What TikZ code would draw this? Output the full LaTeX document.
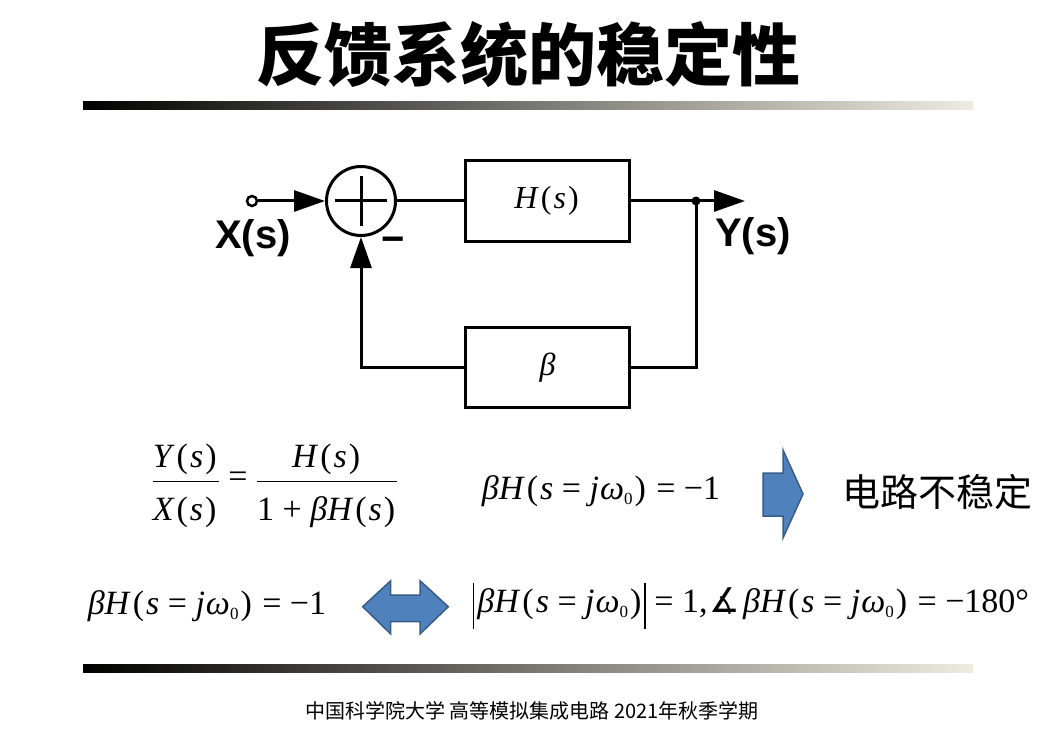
\documentclass[tikz,border=0pt]{standalone}
\usepackage{fontspec}
\setmainfont{Liberation Serif}
\newfontfamily\cjk{Noto Sans CJK SC}
\newfontfamily\lblfont{Liberation Sans}
\newfontfamily\symfont{DejaVu Sans}
\usetikzlibrary{arrows.meta}

\definecolor{barbeige}{RGB}{238,235,224}
\definecolor{barmid}{RGB}{168,166,157}
\definecolor{arrowfill}{RGB}{79,129,189}
\definecolor{arrowline}{RGB}{56,93,138}

\newcommand{\vi}[1]{\textit{#1}}
\newcommand{\lp}{\kern2pt(\kern2pt}
\newcommand{\rp}{\kern2pt)\kern2pt}
\newcommand{\zsub}{\raisebox{-5pt}{\fontsize{17}{17}\selectfont 0}}
\newcommand{\jw}{\vi{j}\kern1pt\vi{ω}\zsub}
\newcommand{\absbar}{\rule[-17pt]{1.5pt}{46pt}}
\newcommand{\numstrut}{\rule[-12pt]{0pt}{12pt}}
\newcommand{\denstrut}{\rule{0pt}{38pt}}

\begin{document}
\begin{tikzpicture}[x=1pt, y=-1pt,
    wire/.style={line width=3pt},
    sig/.style={wire, -{Triangle[length=31pt,width=21pt]}},
    blk/.style={rectangle, draw, line width=3pt, minimum width=164pt, minimum height=80pt, font=\fontsize{32}{38}\selectfont},
    sumnode/.style={circle, draw, line width=3pt, minimum size=69pt, inner sep=0pt},
    port/.style={circle, draw, line width=2.5pt, fill=white, minimum size=10pt, inner sep=0pt},
    tapdot/.style={circle, fill, minimum size=9pt, inner sep=0pt},
    lbl/.style={font=\lblfont\bfseries\fontsize{40}{44}\selectfont, inner sep=0pt},
    eq/.style={font=\fontsize{34}{40}\selectfont, inner sep=0pt},
    blockarrow/.style={fill=arrowfill, draw=arrowline, line width=1.5pt, line join=miter},
    bar/.style={left color=black, middle color=barmid, right color=barbeige}]

  \useasboundingbox (0,0) rectangle (1061,749);

  % title and bars
  \node[font=\cjk\bfseries\fontsize{68}{74}\selectfont] (title) at (528,55) {反馈系统的稳定性};
  \shade[bar] (83,102) rectangle (973,110);
  \shade[bar] (83,664) rectangle (973,672);

  % block diagram
  \node[port] (xin) at (252,201) {};
  \node[sumnode] (sum) at (361,201) {};
  \draw[wire] ([xshift=-26pt]sum.center) -- ([xshift=26pt]sum.center);
  \draw[wire] ([yshift=-25pt]sum.center) -- ([yshift=25pt]sum.center);
  \node[blk] (hblk) at (547.5,201) {\vi{H}\lp\vi{s}\rp};
  \node[blk] (bblk) at (547.5,367.5) {\vi{β}};
  \node[tapdot] (tap) at (696,201) {};
  \coordinate (yout) at (745,201);

  \draw[sig] (xin) -- (sum);
  \draw[wire] (sum) -- (hblk);
  \draw[wire] (hblk) -- (tap.center);
  \draw[sig] (tap.center) -- (yout);
  \draw[wire] (tap.center) |- (bblk);
  \draw[sig] (bblk) -| (sum);

  \node[lbl] (xlbl) at (253,238) {X(s)};
  \node[lbl] (ylbl) at (753,236) {Y(s)};
  \node[lbl] (minus) at (393,245) {−};

  % equations
  \node[eq] (tf) at (275,486) {$\displaystyle\frac{\mbox{\numstrut\vi{Y}\lp\vi{s}\rp}}{\mbox{\denstrut\vi{X}\lp\vi{s}\rp}}$ = $\displaystyle\frac{\mbox{\numstrut\vi{H}\lp\vi{s}\rp}}{\mbox{\denstrut 1 + \vi{β}\vi{H}\lp\vi{s}\rp}}$};
  \node[eq] (cond) at (601,491) {\vi{β}\vi{H}\lp\vi{s} = \jw\rp{} = −1};
  \draw[blockarrow] (763,473) -- (783,473) -- (783,450) -- (803,494) -- (783,538) -- (783,516) -- (763,516) -- cycle;
  \node[font=\cjk\fontsize{38}{44}\selectfont] (unstable) at (937,492) {电路不稳定};

  \node[eq] (cond2) at (207,606) {\vi{β}\vi{H}\lp\vi{s} = \jw\rp{} = −1};
  \draw[blockarrow] (362.7,606.7) -- (390.7,580.7) -- (390.7,595) -- (420,595) -- (420,580.7) -- (448.3,606.7)
    -- (420,634) -- (420,621.7) -- (390.7,621.7) -- (390.7,634) -- cycle;
  \node[eq] (magphase) at (751,606) {\absbar\kern3pt\vi{β}\vi{H}\lp\vi{s} = \jw\rp\kern1pt\absbar{} = 1,\kern2pt{\symfont ∡}\kern3pt\vi{β}\vi{H}\lp\vi{s} = \jw\rp{} = −180°};

  % footer
  \node[font=\cjk\fontsize{20}{24}\selectfont] (footer) at (532,711) {中国科学院大学 高等模拟集成电路 2021年秋季学期};
\end{tikzpicture}
\end{document}
